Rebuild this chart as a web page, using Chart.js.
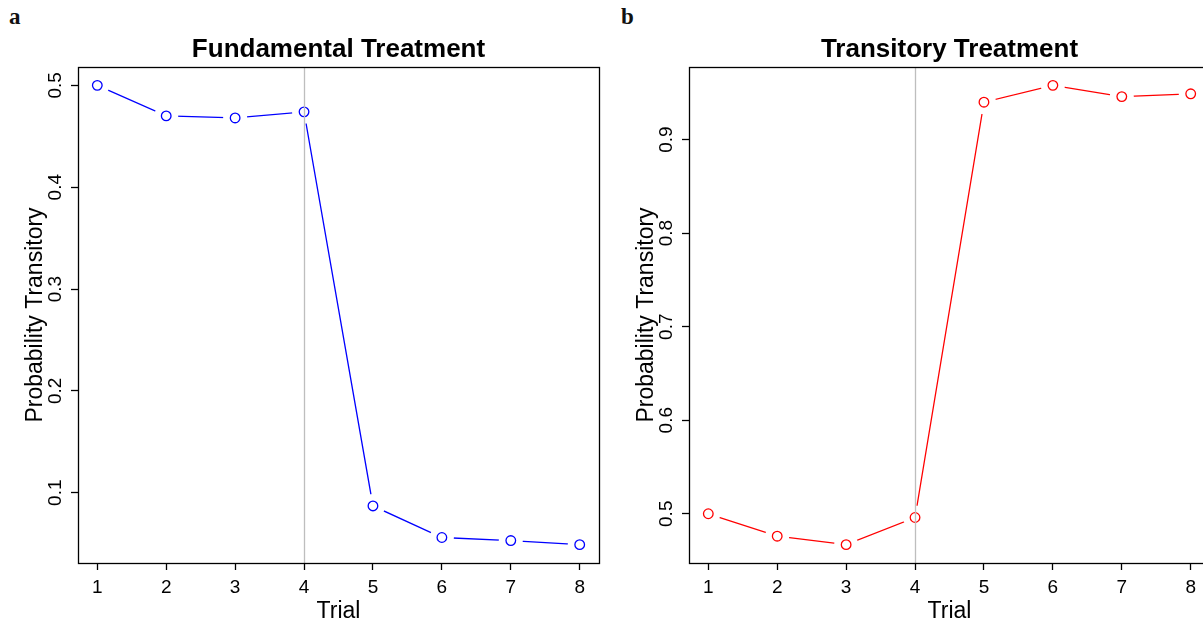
<!DOCTYPE html>
<html>
<head>
<meta charset="utf-8">
<script src="https://cdn.jsdelivr.net/npm/chart.js@4.4.1/dist/chart.umd.min.js"></script>
<style>
  html, body { margin: 0; padding: 0; background: #fff; overflow: hidden; width: 1203px; height: 626px; }
  .panel { position: absolute; top: 0; width: 611px; height: 626px; }
  .tag { position: absolute; font-family: "Liberation Serif", "DejaVu Serif", serif; font-weight: bold; font-size: 23px; line-height: 23px; color: #111; }
</style>
</head>
<body>
<div class="tag" style="left:9px; top:5px;">a</div>
<div class="tag" style="left:621px; top:5px;">b</div>
<div class="panel" style="left:0px;"><canvas id="c1" width="611" height="626"></canvas></div>
<div class="panel" style="left:611px;"><canvas id="c2" width="611" height="626"></canvas></div>
<script>
// ---- data ----
const trials = [1, 2, 3, 4, 5, 6, 7, 8];
const fundamentalProb = [0.500, 0.470, 0.468, 0.474, 0.087, 0.056, 0.053, 0.049];
const transitoryProb  = [0.500, 0.476, 0.467, 0.496, 0.940, 0.958, 0.946, 0.949];
const xTickValues = [1, 2, 3, 4, 5, 6, 7, 8];
const fundamentalYTicks = [0.1, 0.2, 0.3, 0.4, 0.5];
const transitoryYTicks = [0.5, 0.6, 0.7, 0.8, 0.9];
const treatmentSwitchTrial = 4;

const FONT = '"Liberation Sans", Arial, Helvetica, sans-serif';

function rRange(arr) {
  const lo = Math.min(...arr), hi = Math.max(...arr);
  const pad = (hi - lo) * 0.04;
  return [lo - pad, hi + pad];
}

const framePlugin = {
  id: 'frame',
  afterDatasetsDraw(chart, args, opts) {
    const {ctx, chartArea: a, scales} = chart;
    ctx.save();
    // vertical reference line at the treatment switch
    const xv = Math.round(scales.x.getPixelForValue(opts.vline)) + 0.5;
    ctx.strokeStyle = '#BEBEBE';
    ctx.lineWidth = 1.3;
    ctx.beginPath();
    ctx.moveTo(xv, a.top);
    ctx.lineTo(xv, a.bottom);
    ctx.stroke();
    // box
    ctx.strokeStyle = '#000';
    ctx.lineWidth = 1.3;
    ctx.strokeRect(Math.round(a.left) + 0.5, Math.round(a.top) + 0.5,
                   Math.round(a.right - a.left), Math.round(a.bottom - a.top));
    ctx.restore();
  }
};

function makeChart(id, title, values, color, yTicks) {
  const pts = trials.map((t, i) => ({x: t, y: values[i]}));
  const [ymin, ymax] = rRange(values);
  const [xmin, xmax] = rRange(trials);
  return new Chart(document.getElementById(id), {
    type: 'line',
    data: {
      datasets: [
        { data: pts, borderColor: color, borderWidth: 1.3, pointRadius: 0, fill: false, order: 3, tension: 0 },
        { data: pts, showLine: false, pointRadius: 12, pointBorderWidth: 0,
          pointBackgroundColor: '#ffffff', pointBorderColor: '#ffffff', order: 2 },
        { data: pts, showLine: false, pointRadius: 4.8, pointBorderWidth: 1.3,
          pointBackgroundColor: 'rgba(255,255,255,0)', pointBorderColor: color, order: 1 }
      ]
    },
    options: {
      responsive: false,
      animation: false,
      events: [],
      layout: { padding: { left: 0, right: 10, top: 0, bottom: 0 } },
      plugins: {
        legend: { display: false },
        tooltip: { enabled: false },
        title: {
          display: true, text: title, fullSize: false, color: '#000',
          font: { family: FONT, size: 26, weight: 'bold', lineHeight: 1.2 },
          padding: { top: 34, bottom: 1.8 }
        },
        frame: { vline: treatmentSwitchTrial }
      },
      scales: {
        x: {
          type: 'linear', min: xmin, max: xmax,
          afterFit(s) { s.height = 63; },
          afterBuildTicks(s) { s.ticks = xTickValues.map(v => ({value: v})); },
          grid: { display: true, drawOnChartArea: false, drawTicks: true, tickLength: 7, tickColor: '#000', tickWidth: 1.3 },
          border: { display: false },
          ticks: { color: '#000', font: { family: FONT, size: 19 }, padding: 6, maxRotation: 0, autoSkip: false,
                   callback: v => String(v) },
          title: { display: true, text: 'Trial', color: '#000', font: { family: FONT, size: 23 }, padding: { top: 0, bottom: 1 } }
        },
        y: {
          type: 'linear', min: ymin, max: ymax,
          afterFit(s) { s.width = 78; },
          afterBuildTicks(s) { s.ticks = yTicks.map(v => ({value: v})); },
          grid: { display: true, drawOnChartArea: false, drawTicks: true, tickLength: 7, tickColor: '#000', tickWidth: 1.3 },
          border: { display: false },
          ticks: { color: '#000', font: { family: FONT, size: 19 }, padding: 2, minRotation: 90, maxRotation: 90,
                   crossAlign: 'center', autoSkip: false, callback: v => Number(v).toFixed(1) },
          title: { display: true, text: 'Probability Transitory', color: '#000', font: { family: FONT, size: 23 }, padding: { top: 22, bottom: 0 } }
        }
      }
    },
    plugins: [framePlugin]
  });
}

makeChart('c1', 'Fundamental Treatment', fundamentalProb, '#0000FF', fundamentalYTicks);
makeChart('c2', 'Transitory Treatment', transitoryProb, '#FF0000', transitoryYTicks);
</script>
</body>
</html>
